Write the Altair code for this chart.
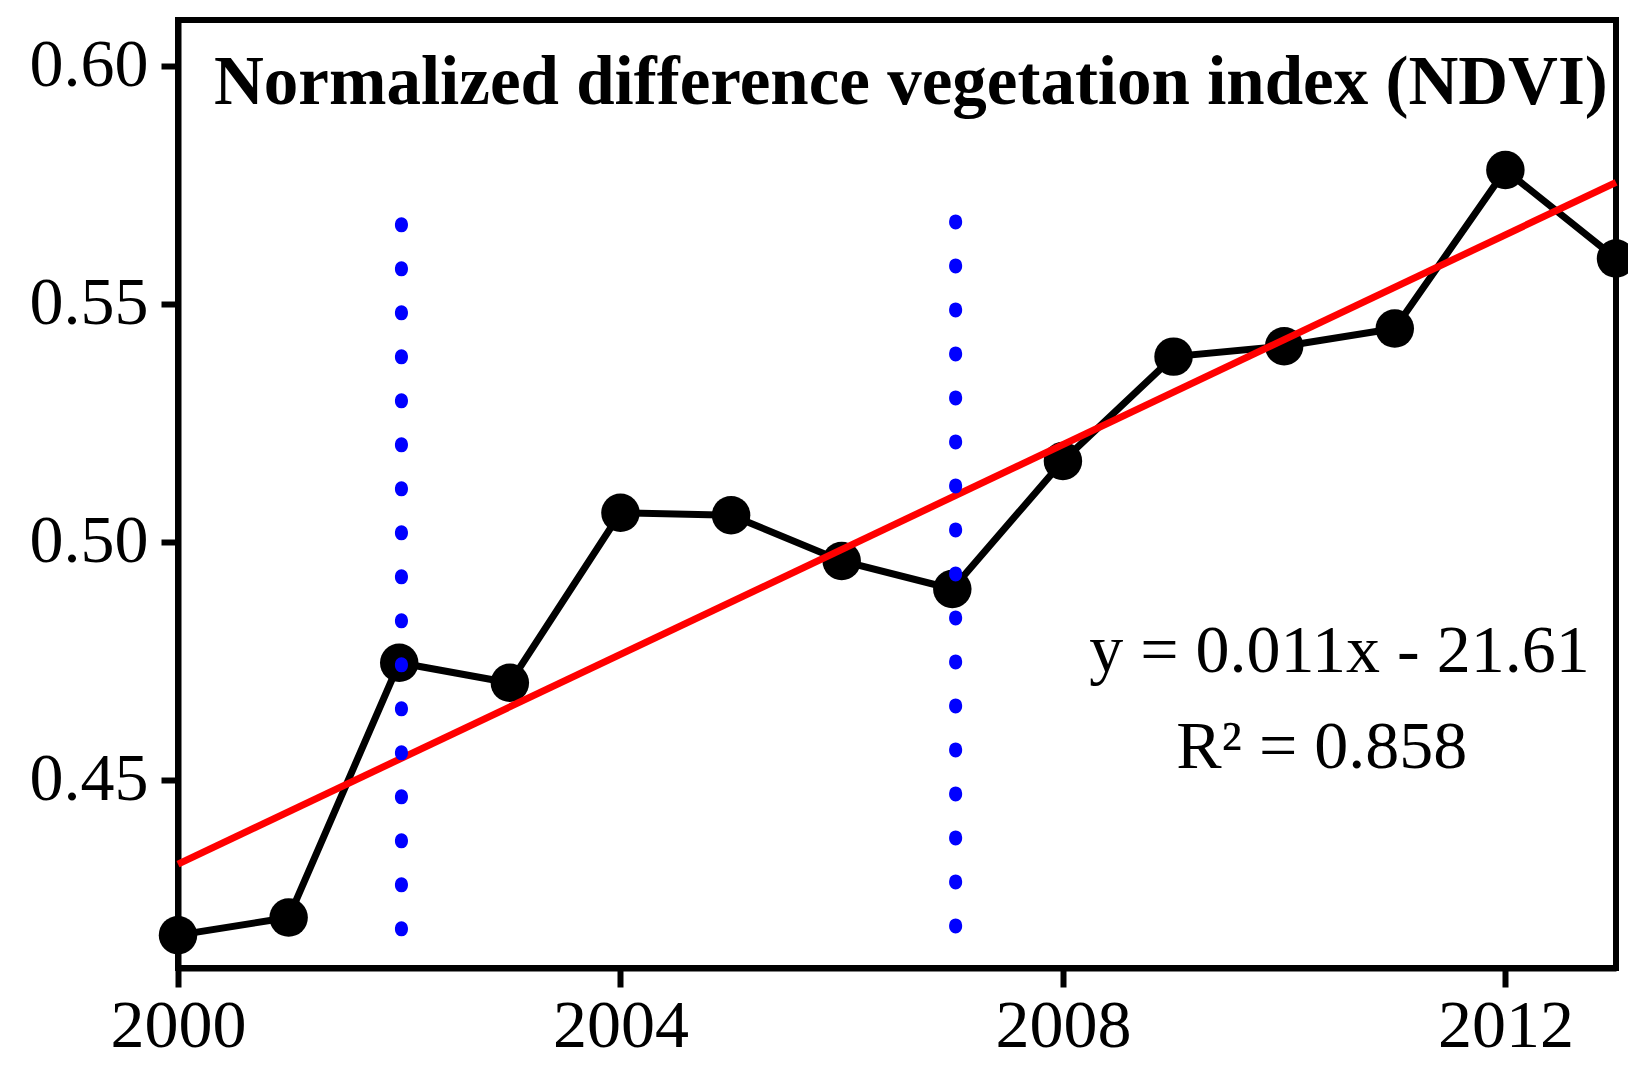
import altair as alt
import pandas as pd

# ---- data ----
years = list(range(2000, 2014))
ndvi = [0.4174, 0.4211, 0.4746, 0.4704, 0.5061, 0.5056, 0.4960,
        0.4901, 0.5170, 0.5389, 0.5411, 0.5448, 0.5781, 0.5595]

trend_years = [2000, 2013]
trend_values = [0.4323, 0.5755]

break_years = [2002.02, 2007.03]
break_top = [0.5668, 0.5674]
break_bottom = [0.4185, 0.4191]

ann_text = ["y = 0.011x - 21.61", "R\u00b2 = 0.858"]
ann_year = [2010.50, 2010.34]
ann_value = [0.4727, 0.4525]

x_ticks = [2000, 2004, 2008, 2012]
y_ticks = [0.45, 0.50, 0.55, 0.60]

title_text = "Normalized difference vegetation index (NDVI)"

# ---- tables ----
df = pd.DataFrame({"year": years, "ndvi": ndvi})
trend = pd.DataFrame({"year": trend_years, "ndvi": trend_values})
breaks = pd.DataFrame({"year": break_years, "top": break_top, "bottom": break_bottom})
ann = pd.DataFrame({"year": ann_year, "ndvi": ann_value, "label": ann_text})

FONT = "Liberation Serif"

xscale = alt.Scale(domain=[2000, 2013], nice=False, zero=False)
yscale = alt.Scale(domain=[0.4105, 0.6096], nice=False, zero=False)

xaxis = alt.Axis(values=x_ticks, format="d", title=None, labelPadding=5,
                 tickSize=19, labelFlush=False)
yaxis = alt.Axis(values=y_ticks, format=".2f", title=None, labelPadding=13,
                 tickSize=17, labelFlush=False)

X = alt.X("year:Q", scale=xscale, axis=xaxis)
Y = alt.Y("ndvi:Q", scale=yscale, axis=yaxis)

line = alt.Chart(df).mark_line(color="black", strokeWidth=7, clip=False).encode(x=X, y=Y)
points = alt.Chart(df).mark_circle(color="black", size=1480, opacity=1, clip=False).encode(x=X, y=Y)
red = alt.Chart(trend).mark_line(color="#ff0000", strokeWidth=7).encode(x=X, y=Y)
blue = alt.Chart(breaks).mark_rule(
    color="#0000ff", strokeWidth=13, strokeDash=[2, 42], strokeCap="round"
).encode(
    x=alt.X("year:Q", scale=xscale, axis=xaxis),
    y=alt.Y("top:Q", scale=yscale, axis=yaxis),
    y2="bottom:Q",
)
text = alt.Chart(ann).mark_text(
    font=FONT, fontSize=68, color="black", align="center", baseline="alphabetic"
).encode(x=X, y=Y, text="label:N")

chart = alt.layer(line, points, red, blue, text).properties(
    width=1438,
    height=948,
    background="white",
    autosize=alt.AutoSizeParams(type="none"),
    padding={"left": 170, "top": 12, "right": 12, "bottom": 100},
    title=alt.TitleParams(
        text=title_text,
        anchor="start",
        frame="group",
        font=FONT,
        fontSize=69,
        fontWeight="bold",
        color="black",
        dx=36,
        offset=-153,
        baseline="alphabetic",
    ),
).configure_view(
    stroke="black", strokeWidth=6
).configure_axis(
    domainColor="black", domainWidth=6, tickColor="black", tickWidth=6,
    labelFont=FONT, labelFontSize=68, labelColor="black", grid=False,
)

chart.save("out.html", embed_options={"renderer": "svg", "actions": False})
